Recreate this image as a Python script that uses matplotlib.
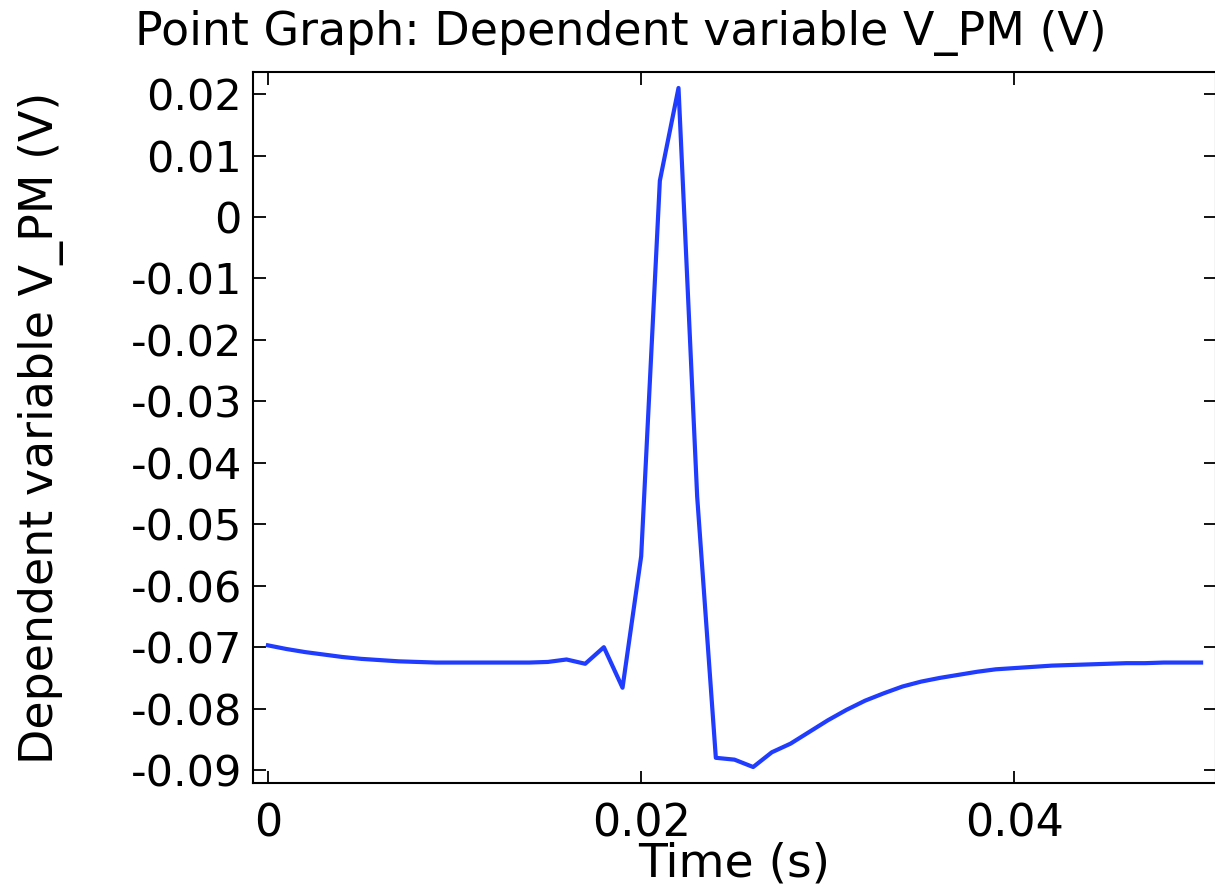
import matplotlib.pyplot as plt
import numpy as np

# sample times (s), one every millisecond
time_s = np.arange(51) * 0.001

# V_PM (V)
v_pm = [
    -0.0697, -0.0703, -0.0708, -0.0712, -0.0716, -0.0719, -0.0721, -0.0723,
    -0.0724, -0.0725, -0.0725, -0.0725, -0.0725, -0.0725, -0.0725, -0.0724,
    -0.0720, -0.0727, -0.0700, -0.0766, -0.0552, 0.0059, 0.0210, -0.0455,
    -0.0880, -0.0883, -0.0895, -0.0871, -0.0857, -0.0838, -0.0819, -0.0802,
    -0.0787, -0.0775, -0.0764, -0.0756, -0.0750, -0.0745, -0.0740, -0.0736,
    -0.0734, -0.0732, -0.0730, -0.0729, -0.0728, -0.0727, -0.0726, -0.0726,
    -0.0725, -0.0725, -0.0725,
]

x_ticks = [0, 0.02, 0.04]
x_tick_labels = ["0", "0.02", "0.04"]
y_ticks = np.round(np.arange(-0.09, 0.021, 0.01), 2)
y_tick_labels = ["0" if abs(v) < 1e-9 else "%g" % v for v in y_ticks]

plt.rcParams['font.family'] = ['DejaVu Sans']

fig = plt.figure(figsize=(12.15, 8.9), dpi=100)
ax = fig.add_axes([253 / 1215, 1 - 783 / 890, (1216 - 253) / 1215, (783 - 72) / 890])

ax.plot(time_s, v_pm, color='#1f3cff', linewidth=3.0)

ax.set_xlim(-0.0008, 0.0508)
ax.set_ylim(-0.0921, 0.0236)
ax.set_xticks(x_ticks)
ax.set_xticklabels(x_tick_labels)
ax.set_yticks(y_ticks)
ax.set_yticklabels(y_tick_labels)

ax.tick_params(direction='in', length=9, width=1.3, labelsize=31,
               top=True, right=True, pad=8)
ax.tick_params(axis='x', labelsize=32, pad=14)
for s in ax.spines.values():
    s.set_linewidth(1.5)

ax.set_xlabel("Time (s)", fontsize=34, labelpad=-3)
ax.set_ylabel("Dependent variable V_PM (V)", fontsize=33, labelpad=48)
fig.text(621 / 1215, 1 - 33 / 890, "Point Graph: Dependent variable V_PM (V)",
         fontsize=33, ha='center', va='center')

fig.savefig("out.png", dpi=100)
